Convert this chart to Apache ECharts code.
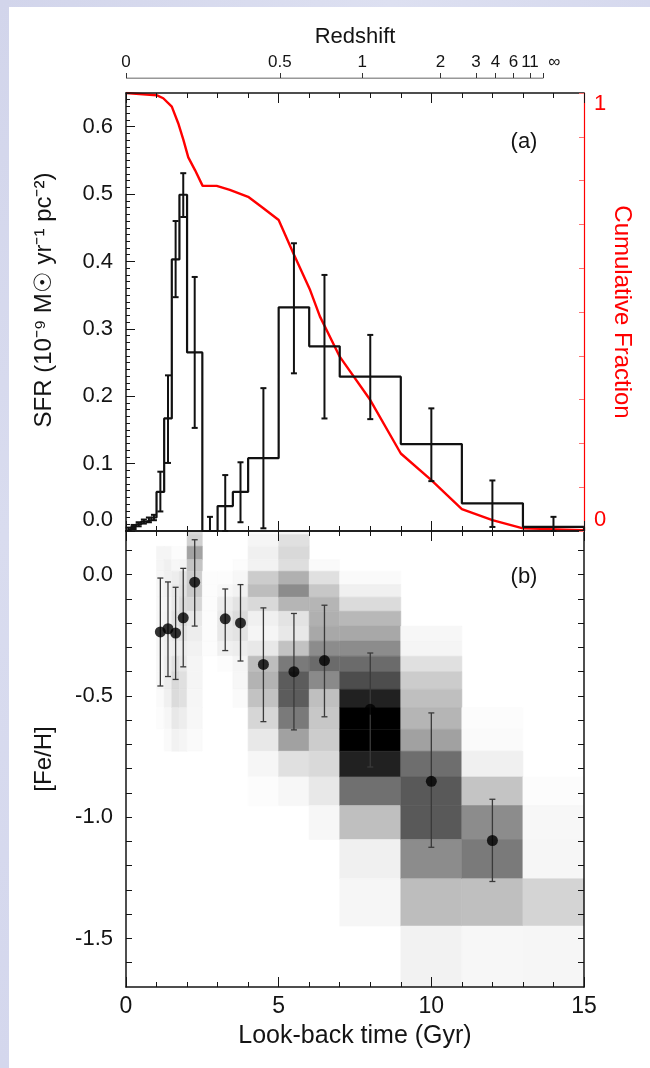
<!DOCTYPE html>
<html>
<head>
<meta charset="utf-8">
<title>Star formation history and age-metallicity relation</title>
<script src="https://cdn.jsdelivr.net/npm/echarts@6/dist/echarts.min.js"></script>
<style>
  html, body { margin: 0; padding: 0; background: #ffffff; }
  #frameTop { position: absolute; left: 0; top: 0; width: 650px; height: 7px;
    background: linear-gradient(to right, #d2d5eb, #dde0f1 60%, #d6d9ee); }
  #frameLeft { position: absolute; left: 0; top: 0; width: 9px; height: 1068px;
    background: linear-gradient(to bottom, #d2d5eb, #d9dcef 50%, #d4d7ed); }
  #chart { position: absolute; left: 0; top: 0; width: 650px; height: 1068px; }
</style>
</head>
<body>
<div id="frameTop"></div>
<div id="frameLeft"></div>
<div id="chart"></div>
<script>
// ---------- Panel (a): star formation rate (10^-9 Msun / yr / pc^2) ----------
const sfrBinEdges = [0, 0.17, 0.33, 0.5, 0.67, 0.83, 1.0, 1.25, 1.5, 1.75, 2.0, 2.5, 3.0, 3.5, 4.0, 5, 6, 7, 9, 11, 13, 15];
const sfrValues   = [0.0025, 0.006, 0.010, 0.014, 0.016, 0.020, 0.058, 0.167, 0.403, 0.499, 0.265, 0.0, 0.037, 0.058, 0.108, 0.332, 0.274, 0.229, 0.129, 0.041, 0.006];

// error bars (bin centre, lower, upper)
const sfrErrTime = [0.085, 0.25, 0.415, 0.585, 0.75, 0.915, 1.125, 1.375, 1.625, 1.875, 2.25, 2.75, 3.25, 3.75, 4.5, 5.5, 6.5, 8, 10, 12, 14];
const sfrErrLow  = [0.000, 0.003, 0.007, 0.011, 0.013, 0.016, 0.029, 0.101, 0.347, 0.466, 0.153, 0.0, 0.0, 0.013, 0.004, 0.234, 0.167, 0.166, 0.074, 0.006, 0.0];
const sfrErrHigh = [0.005, 0.009, 0.013, 0.017, 0.020, 0.024, 0.088, 0.231, 0.460, 0.531, 0.377, 0.021, 0.083, 0.102, 0.212, 0.427, 0.380, 0.291, 0.182, 0.075, 0.021];

// cumulative fraction of stars formed (right axis)
const cumTime     = [0, 1.0, 1.22, 1.5, 1.71, 1.88, 2.04, 2.26, 2.51, 2.97, 3.4, 4.0, 4.5, 5.0, 5.48, 6.03, 6.35, 7.0, 8.0, 9.0, 10.0, 11.0, 12.0, 13.0, 15.0];
const cumFraction = [1.0, 0.995, 0.988, 0.969, 0.931, 0.893, 0.853, 0.824, 0.788, 0.788, 0.779, 0.763, 0.737, 0.71, 0.634, 0.55, 0.49, 0.398, 0.299, 0.177, 0.116, 0.05, 0.025, 0.006, 0.002];

// redshift scale along the top (label, look-back time in Gyr)
const redshiftLabels   = ['0', '0.5', '1', '2', '3', '4', '6', '11', '\u221e'];
const redshiftLookback = [0, 5.04, 7.74, 10.3, 11.46, 12.1, 12.69, 13.23, 13.67];

// ---------- Panel (b): [Fe/H] distribution ----------
const heatTimeEdges = [1.0, 1.25, 1.5, 1.75, 2.0, 2.5, 3.0, 3.5, 4.0, 5, 6, 7, 9, 11, 13, 15];
const heatFehEdges  = [0.18, 0.165, 0.117, 0.062, 0.014, -0.041, -0.093, -0.151, -0.212, -0.274, -0.336, -0.40, -0.473, -0.548, -0.637, -0.728, -0.834, -0.952, -1.092, -1.254, -1.449, -1.70];
// relative stellar density per time column (rows from top to bottom)
const heatDensity = [
  [0, 0, 0.04, 0.04, 0.035, 0.03, 0.03, 0.035, 0.035, 0.035, 0.03, 0.03, 0.02, 0.01, 0, 0, 0, 0, 0, 0, 0],
  [0, 0, 0.04, 0.06, 0.06, 0.05, 0.04, 0.05, 0.06, 0.06, 0.07, 0.07, 0.06, 0.035, 0.02, 0, 0, 0, 0, 0, 0],
  [0, 0, 0.01, 0.03, 0.07, 0.09, 0.09, 0.11, 0.09, 0.07, 0.12, 0.15, 0.14, 0.09, 0.05, 0, 0, 0, 0, 0, 0],
  [0, 0, 0.01, 0.04, 0.11, 0.12, 0.15, 0.15, 0.11, 0.07, 0.09, 0.12, 0.12, 0.07, 0.04, 0, 0, 0, 0, 0, 0],
  [0.15, 0.18, 0.36, 0.23, 0.20, 0.21, 0.16, 0.09, 0.07, 0.05, 0.04, 0.04, 0.035, 0.03, 0.02, 0, 0, 0, 0, 0, 0],
  [0, 0, 0, 0, 0.01, 0.01, 0.01, 0.01, 0.01, 0.01, 0, 0, 0, 0, 0, 0, 0, 0, 0, 0, 0],
  [0, 0, 0, 0, 0.01, 0.03, 0.07, 0.09, 0.09, 0.06, 0.01, 0, 0, 0, 0, 0, 0, 0, 0, 0, 0],
  [0, 0, 0, 0.01, 0.03, 0.05, 0.11, 0.14, 0.11, 0.07, 0.04, 0.03, 0.02, 0, 0, 0, 0, 0, 0, 0, 0],
  [0.02, 0.04, 0.06, 0.05, 0.20, 0.26, 0.15, 0.06, 0.04, 0.09, 0.26, 0.30, 0.24, 0.16, 0.09, 0.035, 0.01, 0, 0, 0, 0],
  [0.04, 0.12, 0.15, 0.13, 0.31, 0.45, 0.29, 0.11, 0.09, 0.24, 0.52, 0.64, 0.64, 0.52, 0.37, 0.12, 0.03, 0, 0, 0, 0],
  [0, 0, 0, 0.02, 0.12, 0.22, 0.29, 0.31, 0.34, 0.45, 0.58, 0.46, 0.25, 0.22, 0.20, 0.15, 0.09, 0.03, 0, 0, 0],
  [0, 0, 0, 0, 0.02, 0.06, 0.14, 0.28, 0.34, 0.45, 0.58, 0.70, 0.87, 1.0, 1.0, 0.87, 0.56, 0.25, 0.06, 0.035, 0],
  [0, 0, 0, 0, 0, 0, 0, 0, 0.03, 0.04, 0.12, 0.20, 0.25, 0.29, 0.37, 0.57, 0.65, 0.65, 0.45, 0.26, 0.05],
  [0, 0, 0, 0, 0, 0, 0, 0, 0, 0, 0, 0, 0, 0.01, 0.02, 0.06, 0.23, 0.45, 0.52, 0.25, 0.03],
  [0, 0, 0, 0, 0, 0, 0, 0, 0, 0, 0, 0, 0, 0, 0, 0, 0.01, 0.03, 0.035, 0.17, 0.035]
];

// mean [Fe/H] per age bin with dispersion
const fehTime = [1.125, 1.375, 1.625, 1.875, 2.25, 3.25, 3.75, 4.5, 5.5, 6.5, 8, 10, 12];
const fehMean = [-0.236, -0.223, -0.241, -0.178, -0.031, -0.182, -0.199, -0.37, -0.40, -0.354, -0.555, -0.852, -1.096];
const fehHigh = [-0.014, -0.030, -0.052, 0.026, 0.144, -0.059, -0.041, -0.137, -0.16, -0.126, -0.323, -0.57, -0.926];
const fehLow  = [-0.459, -0.420, -0.432, -0.380, -0.212, -0.313, -0.356, -0.606, -0.64, -0.586, -0.793, -1.124, -1.265];

// axis ticks and labels
const timeTicks      = [0, 5, 10, 15];
const sfrLabelTicks  = [0, 0.1, 0.2, 0.3, 0.4, 0.5, 0.6];
const fracLabelTicks = [0, 1];
const fehLabelTicks  = [0, -0.5, -1.0, -1.5];

// ---------- derived drawing data ----------
const sfrStep = [[sfrBinEdges[0], 0]];
sfrValues.forEach((v, i) => { sfrStep.push([sfrBinEdges[i], v], [sfrBinEdges[i + 1], v]); });
sfrStep.push([sfrBinEdges[sfrBinEdges.length - 1], 0]);

const sfrErrData = sfrErrTime.map((t, i) => [t, sfrErrLow[i], sfrErrHigh[i]]);
const cumData = cumTime.map((t, i) => [t, cumFraction[i]]);

const heatCells = [];
heatDensity.forEach((col, c) => col.forEach((d, r) => {
  if (d > 0) heatCells.push([heatTimeEdges[c], heatTimeEdges[c + 1], heatFehEdges[r], heatFehEdges[r + 1], d]);
}));
const fehErrData = fehTime.map((t, i) => [t, fehLow[i], fehHigh[i]]);
const fehPoints = fehTime.map((t, i) => [t, fehMean[i]]);

const steps = (from, to, step) => {
  const out = [];
  const n = Math.round((to - from) / step);
  for (let i = 0; i <= n; i++) out.push(+(from + i * step).toFixed(4));
  return out;
};

const FONT = '"Liberation Sans", Arial, Helvetica, sans-serif';
const INK = '#141414';

function timeAxis(gridIndex, position, showLabels, extra) {
  return Object.assign({
    type: 'value', gridIndex, position, min: 0, max: 15, interval: 5, z: 10,
    axisLine: { show: true, onZero: false, lineStyle: { color: INK, width: 1.5 } },
    axisTick: { show: true, inside: true, length: 10, lineStyle: { color: INK, width: 1 } },
    minorTick: { show: true, splitNumber: 5, length: 5, lineStyle: { color: INK, width: 1 } },
    axisLabel: { show: showLabels, color: INK, fontFamily: FONT, fontSize: 23, margin: 8,
      customValues: timeTicks, formatter: v => String(v) },
    splitLine: { show: false }, minorSplitLine: { show: false }
  }, extra || {});
}

function errorBarItem(color, width, cap) {
  return function (params, api) {
    const x = api.value(0);
    const pLo = api.coord([x, api.value(1)]);
    const pHi = api.coord([x, api.value(2)]);
    const style = { stroke: color, lineWidth: width };
    return {
      type: 'group',
      children: [
        { type: 'line', shape: { x1: pLo[0], y1: pLo[1], x2: pHi[0], y2: pHi[1] }, style },
        { type: 'line', shape: { x1: pHi[0] - cap, y1: pHi[1], x2: pHi[0] + cap, y2: pHi[1] }, style },
        { type: 'line', shape: { x1: pLo[0] - cap, y1: pLo[1], x2: pLo[0] + cap, y2: pLo[1] }, style }
      ]
    };
  };
}

const chart = echarts.init(document.getElementById('chart'), null, { renderer: 'canvas' });

const option = {
  animation: false,
  textStyle: { fontFamily: FONT },
  grid: [
    { left: 126, top: 93, width: 458, height: 438 },   // panel (a)
    { left: 126, top: 531, width: 458, height: 456 },  // panel (b)
    { left: 126, top: 78, width: 458, height: 10 }     // redshift scale
  ],
  xAxis: [
    timeAxis(0, 'bottom', false),
    timeAxis(0, 'top', false),
    timeAxis(1, 'bottom', true, {
      name: 'Look-back time (Gyr)', nameLocation: 'middle', nameGap: 37,
      nameTextStyle: { color: INK, fontFamily: FONT, fontSize: 25 }
    }),
    timeAxis(1, 'top', false),
    {
      type: 'value', gridIndex: 2, position: 'top', min: 0, max: 15, z: 10,
      axisLine: { show: false, onZero: false },
      axisTick: { show: true, inside: false, length: 5, customValues: redshiftLookback,
        lineStyle: { color: '#333', width: 1 } },
      axisLabel: {
        show: true, margin: 7, color: INK, fontFamily: FONT, fontSize: 17,
        customValues: redshiftLookback,
        formatter: v => {
          let best = 0;
          redshiftLookback.forEach((t, i) => { if (Math.abs(t - v) < Math.abs(redshiftLookback[best] - v)) best = i; });
          const s = redshiftLabels[best];
          return s === '\u221e' ? '{inf|' + s + '}' : s;
        },
        rich: { inf: { fontFamily: FONT, fontSize: 17, color: INK, padding: [0, 0, 0, 22] } }
      },
      splitLine: { show: false },
      name: 'Redshift', nameLocation: 'middle', nameGap: 30,
      nameTextStyle: { color: INK, fontFamily: FONT, fontSize: 22 }
    }
  ],
  yAxis: [
    { // 0: SFR, major ticks + labels
      type: 'value', gridIndex: 0, position: 'left', min: 0, max: 0.65, z: 10,
      axisLine: { show: true, onZero: false, lineStyle: { color: INK, width: 1.5 } },
      axisTick: { show: true, inside: true, length: 9, customValues: sfrLabelTicks, lineStyle: { color: INK, width: 1 } },
      axisLabel: { show: true, customValues: sfrLabelTicks, formatter: v => v.toFixed(1),
        color: INK, fontFamily: FONT, fontSize: 22, margin: 13, verticalAlignMinLabel: 'bottom' },
      splitLine: { show: false },
      name: 'SFR (10\u207b\u2079 M\u2609 yr\u207b\u00b9 pc\u207b\u00b2)', nameLocation: 'middle', nameGap: 70,
      nameTextStyle: { color: INK, fontFamily: FONT, fontSize: 24, padding: [0, 0, 0, 24] }
    },
    { // 1: cumulative fraction (red, right)
      type: 'value', gridIndex: 0, position: 'right', min: 0, max: 1, interval: 0.1, z: 10,
      axisLine: { show: true, onZero: false, lineStyle: { color: '#ff0000', width: 1.2 } },
      axisTick: { show: true, inside: true, length: 5, lineStyle: { color: '#ff7070', width: 1 } },
      axisLabel: { show: true, customValues: fracLabelTicks, formatter: v => String(v),
        color: '#ff0000', fontFamily: FONT, fontSize: 22, margin: 10,
        verticalAlignMinLabel: 'bottom', verticalAlignMaxLabel: 'top' },
      splitLine: { show: false },
      name: 'Cumulative Fraction', nameLocation: 'middle', nameRotate: -90, nameGap: 26,
      nameMoveOverlap: false,
      nameTextStyle: { color: '#ff0000', fontFamily: FONT, fontSize: 24 }
    },
    { // 2: SFR minor ticks
      type: 'value', gridIndex: 0, position: 'left', min: 0, max: 0.65, z: 10,
      axisLine: { show: false, onZero: false },
      axisTick: { show: true, inside: true, length: 4, customValues: steps(0, 0.65, 0.01), lineStyle: { color: INK, width: 1 } },
      axisLabel: { show: false }, splitLine: { show: false }
    },
    { // 3: [Fe/H] left
      type: 'value', gridIndex: 1, position: 'left', min: -1.7, max: 0.18, z: 10,
      axisLine: { show: true, onZero: false, lineStyle: { color: INK, width: 1.5 } },
      axisTick: { show: true, inside: true, length: 6, customValues: steps(-1.6, 0.1, 0.1), lineStyle: { color: INK, width: 1 } },
      axisLabel: { show: true, customValues: fehLabelTicks, formatter: v => v.toFixed(1),
        color: INK, fontFamily: FONT, fontSize: 22, margin: 13 },
      splitLine: { show: false },
      name: '[Fe/H]', nameLocation: 'middle', nameGap: 70,
      nameTextStyle: { color: INK, fontFamily: FONT, fontSize: 24 }
    },
    { // 4: [Fe/H] right ticks
      type: 'value', gridIndex: 1, position: 'right', min: -1.7, max: 0.18, z: 10,
      axisLine: { show: true, onZero: false, lineStyle: { color: INK, width: 1.5 } },
      axisTick: { show: true, inside: true, length: 6, customValues: steps(-1.6, 0.1, 0.1), lineStyle: { color: INK, width: 1 } },
      axisLabel: { show: false }, splitLine: { show: false }
    },
    { // 5: redshift scale helper
      type: 'value', gridIndex: 2, min: 0, max: 1, show: false
    }
  ],
  graphic: [
    { type: 'text', x: 524, y: 142, z: 20,
      style: { text: '(a)', fill: INK, font: '22px ' + FONT, align: 'center', verticalAlign: 'middle' } },
    { type: 'text', x: 524, y: 577, z: 20,
      style: { text: '(b)', fill: INK, font: '22px ' + FONT, align: 'center', verticalAlign: 'middle' } }
  ],
  series: [
    { // [Fe/H] density map
      type: 'custom', name: 'density', xAxisIndex: 2, yAxisIndex: 3, z: 1, clip: true,
      data: heatCells, encode: { x: [0, 1], y: [2, 3] },
      renderItem: (params, api) => {
        const p0 = api.coord([api.value(0), api.value(2)]);
        const p1 = api.coord([api.value(1), api.value(3)]);
        const g = Math.round(255 * (1 - api.value(4)));
        const c = 'rgb(' + g + ',' + g + ',' + g + ')';
        return { type: 'rect',
          shape: { x: p0[0], y: p0[1], width: p1[0] - p0[0], height: p1[1] - p0[1] },
          style: { fill: c, stroke: c, lineWidth: 0.6 } };
      }
    },
    { // [Fe/H] dispersion
      type: 'custom', name: 'fehErr', xAxisIndex: 2, yAxisIndex: 3, z: 3,
      data: fehErrData, encode: { x: 0, y: [1, 2] },
      renderItem: errorBarItem('#3a3a3a', 1.3, 3)
    },
    { // [Fe/H] mean
      type: 'scatter', name: 'fehMean', xAxisIndex: 2, yAxisIndex: 3, z: 4,
      data: fehPoints, symbol: 'circle', symbolSize: 11,
      itemStyle: { color: '#000' }
    },
    { // cumulative fraction
      type: 'line', name: 'cumulative', xAxisIndex: 0, yAxisIndex: 1, z: 3,
      data: cumData, showSymbol: false, symbol: 'none',
      lineStyle: { color: '#ff0000', width: 2.4 }
    },
    { // SFR histogram
      type: 'line', name: 'sfr', xAxisIndex: 0, yAxisIndex: 0, z: 4,
      data: sfrStep, showSymbol: false, symbol: 'none',
      lineStyle: { color: '#111', width: 2.2 }
    },
    { // SFR uncertainties
      type: 'custom', name: 'sfrErr', xAxisIndex: 0, yAxisIndex: 0, z: 5,
      data: sfrErrData, encode: { x: 0, y: [1, 2] },
      renderItem: errorBarItem('#111', 2, 3)
    },
    { // redshift scale line (z = 0 to z = infinity)
      type: 'line', name: 'redshiftScale', xAxisIndex: 4, yAxisIndex: 5, z: 3,
      data: [[redshiftLookback[0], 1], [redshiftLookback[redshiftLookback.length - 1], 1]],
      showSymbol: false, symbol: 'none', lineStyle: { color: '#333', width: 1 }
    }
  ]
};

chart.setOption(option);
</script>
</body>
</html>
